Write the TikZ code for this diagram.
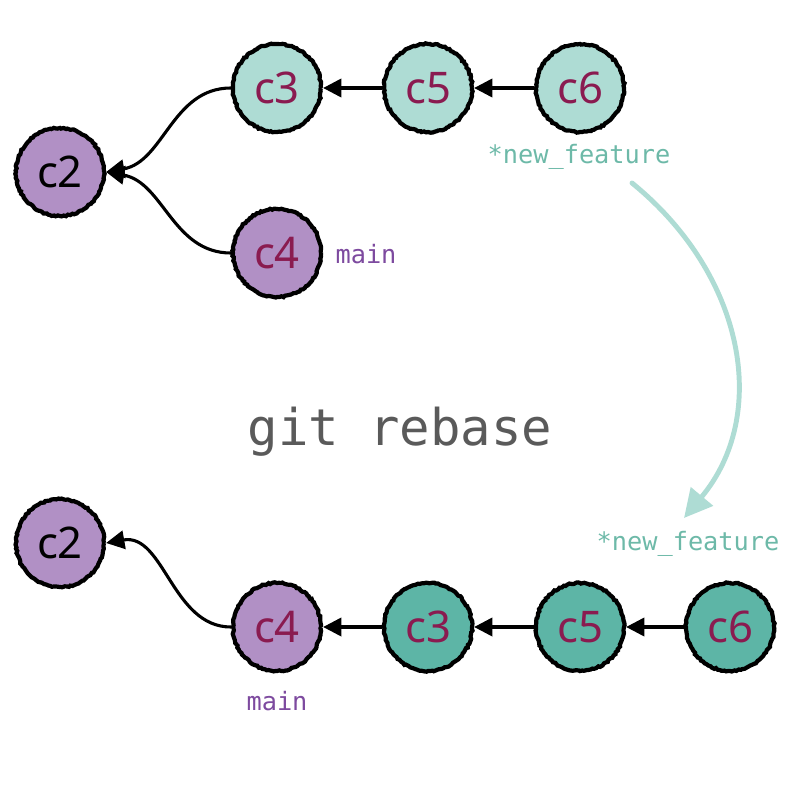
\documentclass[tikz,border=0pt]{standalone}
\usepackage{fontspec}
\setmainfont{Noto Sans}
\newfontfamily\codefont{DejaVu Sans Mono}
\usetikzlibrary{arrows.meta,decorations.pathmorphing}

\definecolor{tealpale}{HTML}{AEDCD4}
\definecolor{tealdark}{HTML}{5DB5A6}
\definecolor{tealtext}{HTML}{6DB9A8}
\definecolor{lilac}{HTML}{B190C5}
\definecolor{lilactext}{HTML}{7D4A9F}
\definecolor{wine}{HTML}{8A1B50}
\definecolor{cmdgray}{HTML}{5A5A5A}

\tikzset{
  commit/.style={circle, minimum size=2.2cm, inner sep=0pt,
    draw=black, line width=3pt, font=\fontsize{31}{31}\selectfont,
    text=wine, decorate,
    decoration={random steps, segment length=1.5pt, amplitude=0.5pt}},
  oldcommit/.style={commit, fill=tealpale},
  newcommit/.style={commit, fill=tealdark},
  basecommit/.style={commit, fill=lilac},
  parent/.style={line width=2.2pt, -{Triangle[length=13pt,width=13pt]}},
  branchlabel/.style={font=\codefont\fontsize{18}{18}\selectfont},
}

\begin{document}
\begin{tikzpicture}[x=0.025cm, y=-0.025cm]

  \useasboundingbox (0,0) rectangle (800,800);

  % before rebase
  \node[basecommit, text=black] (topc2) at (60,172) {c2};
  \node[oldcommit] (topc3) at (277,88) {c3};
  \node[oldcommit] (topc5) at (428,88) {c5};
  \node[oldcommit] (topc6) at (580,88) {c6};
  \node[basecommit] (topc4) at (277,253) {c4};

  \node[branchlabel, text=tealtext] (topfeature) at (579,157) {*new\_feature};
  \node[branchlabel, text=lilactext] (topmain) at (366,254) {main};

  \draw[parent] (topc6) -- (topc5);
  \draw[parent] (topc5) -- (topc3);
  \draw[parent] (topc3.west) to[out=180, in=10] (topc2.east);
  \draw[parent] (topc4.west) to[out=180, in=-10] (topc2.east);

  % command
  \node[font=\codefont\fontsize{36}{36}\selectfont, text=cmdgray] (cmd)
    at (400,432) {git rebase};

  % after rebase
  \node[basecommit, text=black] (botc2) at (60,543) {c2};
  \node[basecommit] (botc4) at (277,627) {c4};
  \node[newcommit] (botc3) at (428,627) {c3};
  \node[newcommit] (botc5) at (580,627) {c5};
  \node[newcommit] (botc6) at (730,627) {c6};

  \node[branchlabel, text=tealtext] (botfeature) at (688,544) {*new\_feature};
  \node[branchlabel, text=lilactext] (botmain) at (277,701) {main};

  \draw[parent] (botc6) -- (botc5);
  \draw[parent] (botc5) -- (botc3);
  \draw[parent] (botc3) -- (botc4);
  \draw[parent] (botc4.west) to[out=180, in=10] (botc2.east);

  % rebase arrow
  \coordinate (movestart) at (632,183);
  \coordinate (moveend) at (684,518);
  \draw[tealpale, line width=3.5pt, line cap=round,
    -{Triangle[length=20pt,width=20pt]}]
    (movestart) .. controls (745,275) and (770,415) .. (moveend);

\end{tikzpicture}
\end{document}
